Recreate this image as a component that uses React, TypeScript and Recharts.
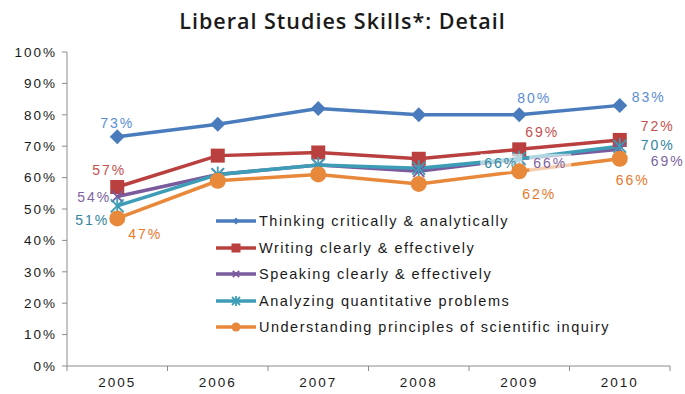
import React from 'react';
import { LineChart, Line, XAxis, YAxis, Legend } from 'recharts';

const years = ['2005', '2006', '2007', '2008', '2009', '2010'];
const yTicks = [0, 10, 20, 30, 40, 50, 60, 70, 80, 90, 100];

const thinking = [73, 77, 82, 80, 80, 83];
const writing = [57, 67, 68, 66, 69, 72];
const speaking = [54, 61, 64, 62, 66, 69];
const analyzing = [51, 61, 64, 63, 66, 70];
const understanding = [47, 59, 61, 58, 62, 66];

const labeledPoints = [0, 4, 5];

const W = 685;
const H = 394;
const PLOT_LEFT = 67;
const PLOT_RIGHT = 670;
const UNIT = (PLOT_RIGHT - PLOT_LEFT) / years.length;

const FONT = '"Liberation Sans", Arial, Helvetica, sans-serif';

const data = years.map((year, i) => ({
  x: i + 0.5,
  year,
  thinking: thinking[i],
  writing: writing[i],
  speaking: speaking[i],
  analyzing: analyzing[i],
  understanding: understanding[i],
}));

type Shape = 'diamond' | 'square' | 'x' | 'star' | 'circle';

// per series: line colour, label colour, marker, and label offsets per labelled point [dx, dy]
const series: {
  key: string;
  name: string;
  color: string;
  labelColor: string;
  shape: Shape;
  offsets: [number, number][];
  halo?: boolean[];
}[] = [
  { key: 'thinking', name: 'Thinking critically & analytically', color: '#4A7CBD', labelColor: '#5B8DD3', shape: 'diamond', offsets: [[0, -14], [15, -17], [29, -8]] },
  { key: 'writing', name: 'Writing clearly & effectively', color: '#B9403F', labelColor: '#C4504E', shape: 'square', offsets: [[-8, -17], [23, -17], [38, -14]] },
  { key: 'speaking', name: 'Speaking clearly & effectively', color: '#7A5B9E', labelColor: '#8064A2', shape: 'x', offsets: [[-23, 1], [31, 4], [48, 12]], halo: [false, true, false] },
  { key: 'analyzing', name: 'Analyzing quantitative problems', color: '#3E9DB6', labelColor: '#31869E', shape: 'star', offsets: [[-25, 14], [-18, 4], [38, -1]], halo: [false, true, false] },
  { key: 'understanding', name: 'Understanding principles of scientific inquiry', color: '#E8883A', labelColor: '#E8782A', shape: 'circle', offsets: [[28, 16], [20, 23], [13, 21]] },
];

function Marker({ shape, cx, cy, color, s }: { shape: Shape; cx: number; cy: number; color: string; s: number }) {
  if (shape === 'diamond') {
    return <polygon points={`${cx},${cy - s} ${cx + s},${cy} ${cx},${cy + s} ${cx - s},${cy}`} fill={color} />;
  }
  if (shape === 'square') {
    return <rect x={cx - s} y={cy - s} width={s * 2} height={s * 2} fill={color} />;
  }
  if (shape === 'circle') {
    return <circle cx={cx} cy={cy} r={s} fill={color} />;
  }
  const d = s * 0.8;
  return (
    <g stroke={color} strokeWidth={1.8}>
      <line x1={cx - d} y1={cy - d} x2={cx + d} y2={cy + d} />
      <line x1={cx - d} y1={cy + d} x2={cx + d} y2={cy - d} />
      {shape === 'star' && <line x1={cx} y1={cy - s} x2={cx} y2={cy + s} />}
    </g>
  );
}

const markerSize: Record<Shape, number> = { diamond: 7.5, square: 7, x: 7, star: 8, circle: 8 };
const legendSize: Record<Shape, number> = { diamond: 3.5, square: 4.5, x: 4, star: 5, circle: 4.5 };

function makeDot(s: (typeof series)[number]) {
  return (props: any) => {
    const { cx, cy, index } = props;
    const li = labeledPoints.indexOf(index);
    return (
      <g key={`${s.key}-dot-${index}`}>
        <Marker shape={s.shape} cx={cx} cy={cy} color={s.color} s={markerSize[s.shape]} />
        {li >= 0 && (
          <g>
            {s.halo && s.halo[li] && (
              <rect
                x={cx + s.offsets[li][0] - 21}
                y={cy + s.offsets[li][1] - 9}
                width={42}
                height={18}
                fill="#ffffff"
                fillOpacity={0.6}
              />
            )}
            <text
              x={cx + s.offsets[li][0]}
              y={cy + s.offsets[li][1]}
              textAnchor="middle"
              dominantBaseline="central"
              fill={s.labelColor}
              fontSize={14}
              letterSpacing={2}
              fontFamily={FONT}
            >
              {`${(props.payload as any)[s.key]}%`}
            </text>
          </g>
        )}
      </g>
    );
  };
}

function XTick(props: any) {
  const { x, y, payload } = props;
  const i = payload.value as number;
  return (
    <g>
      <line x1={x} y1={y} x2={x} y2={y + 5} stroke="#8c8c8c" strokeWidth={1} />
      {i < years.length && (
        <text x={x + UNIT / 2} y={y + 21} textAnchor="middle" fill="#1a1a1a" fontSize={13.5} fontFamily={FONT} letterSpacing={2}>
          {years[i]}
        </text>
      )}
    </g>
  );
}

function LegendBox() {
  return (
    <div style={{ fontFamily: FONT }}>
      {series.map((s) => (
        <div key={s.key} style={{ display: 'flex', alignItems: 'center', height: 26.5 }}>
          <svg width={42} height={14} style={{ marginRight: 2, flexShrink: 0 }}>
            <line x1={1} y1={7} x2={41} y2={7} stroke={s.color} strokeWidth={3.5} />
            <Marker shape={s.shape} cx={21} cy={7} color={s.color} s={legendSize[s.shape]} />
          </svg>
          <span style={{ fontSize: 14.5, color: '#1a1a1a', letterSpacing: 1.5, whiteSpace: 'nowrap' }}>{s.name}</span>
        </div>
      ))}
    </div>
  );
}

export default function App() {
  return (
    <div style={{ position: 'absolute', left: 0, top: 0, width: W, height: H, background: '#fff' }}>
      <div
        style={{
          position: 'absolute',
          top: 6,
          left: 0,
          width: W,
          textAlign: 'center',
          fontFamily: '"Open Sans", "Liberation Sans", Arial, sans-serif',
          fontWeight: 600,
          fontSize: 21.5,
          letterSpacing: 1,
          color: '#1a1a1a',
        }}
      >
        Liberal Studies Skills*: Detail
      </div>
      <LineChart width={W} height={H} data={data} margin={{ top: 52, right: W - PLOT_RIGHT, bottom: 0, left: 8 }}>
        <XAxis
          dataKey="x"
          type="number"
          domain={[0, years.length]}
          ticks={years.map((_, i) => i).concat(years.length)}
          tick={<XTick />}
          tickLine={false}
          tickSize={0}
          tickMargin={0}
          height={28}
          stroke="#8c8c8c"
          interval={0}
        />
        <YAxis
          type="number"
          domain={[0, 100]}
          ticks={yTicks}
          tickFormatter={(v: number) => `${v}%`}
          width={59}
          tickSize={5}
          tickMargin={5}
          stroke="#8c8c8c"
          tick={{ fill: '#1a1a1a', fontSize: 13.5, fontFamily: FONT, letterSpacing: 2 }}
          interval={0}
        />
        <Legend
          layout="vertical"
          align="center"
          verticalAlign="middle"
          content={<LegendBox />}
          wrapperStyle={{ position: 'absolute', left: 215, top: 208, width: 440 }}
        />
        {series.map((s) => (
          <Line
            key={s.key}
            type="linear"
            dataKey={s.key}
            name={s.name}
            stroke={s.color}
            strokeWidth={3.5}
            dot={makeDot(s)}
            activeDot={false}
            isAnimationActive={false}
          />
        ))}
      </LineChart>
    </div>
  );
}
